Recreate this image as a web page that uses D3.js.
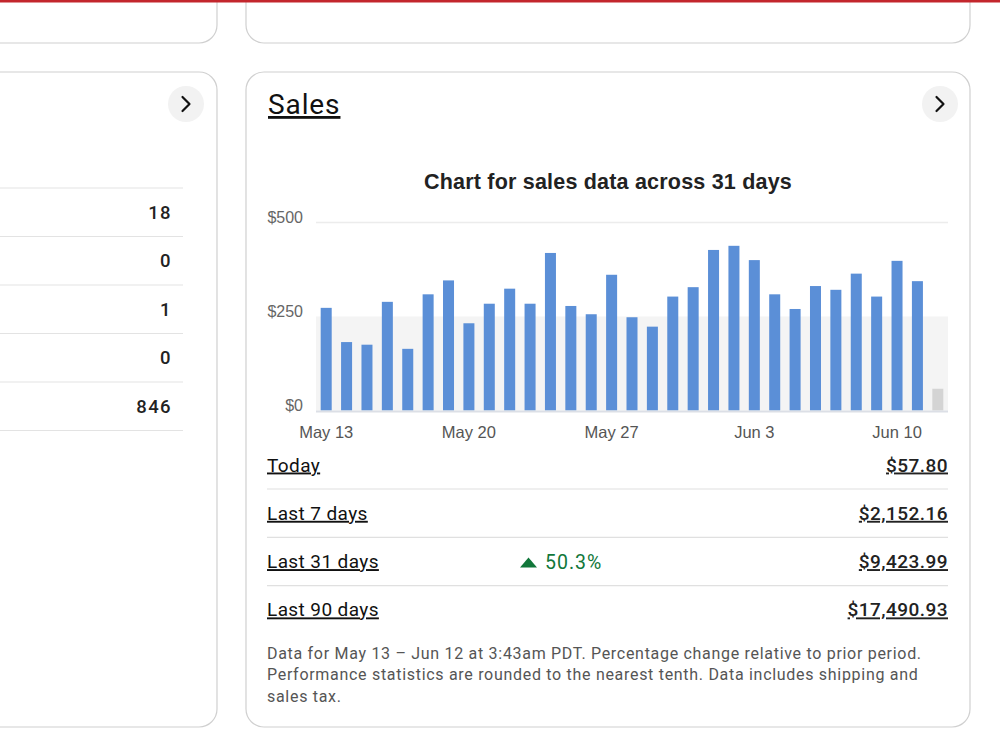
<!DOCTYPE html>
<html>
<head>
<meta charset="utf-8">
<script src="https://cdn.jsdelivr.net/npm/d3@7"></script>
<style>
  html, body { margin: 0; padding: 0; background: #fff; }
  svg { display: block; }
</style>
</head>
<body>
<svg id="page" width="1000" height="750"></svg>
<script>
// ---- data ----
const days = ["May 13","May 14","May 15","May 16","May 17","May 18","May 19","May 20","May 21","May 22",
  "May 23","May 24","May 25","May 26","May 27","May 28","May 29","May 30","May 31","Jun 1",
  "Jun 2","Jun 3","Jun 4","Jun 5","Jun 6","Jun 7","Jun 8","Jun 9","Jun 10","Jun 11","Jun 12"];
const sales = [273,182,175,289,164,309,346,232,284,324,284,419,278,256,361,248,
  223,303,328,427,438,400,309,270,331,321,364,303,398,344,57.8];
const todayLabel = "Jun 12";
const xTickLabels = ["May 13","May 20","May 27","Jun 3","Jun 10"];
const yTickValues = [0,250,500];
const bandRange = [0,250];
const chartTitle = "Chart for sales data across 31 days";

const leftValues = ["18","0","1","0","846"];
const statLabels = ["Today","Last 7 days","Last 31 days","Last 90 days"];
const statValues = ["$57.80","$2,152.16","$9,423.99","$17,490.93"];
const statChanges = ["","","50.3%",""];
const footnote = ["Data for May 13 – Jun 12 at 3:43am PDT. Percentage change relative to prior period.",
  "Performance statistics are rounded to the nearest tenth. Data includes shipping and",
  "sales tax."];

// ---- page ----
const svg = d3.select("#page");
const UI = "Roboto, 'Liberation Sans', sans-serif";
const CH = "'Liberation Sans', Arial, sans-serif";

// cards
function card(x, y, w, h) {
  svg.append("rect").attr("x",x).attr("y",y).attr("width",w).attr("height",h)
    .attr("rx",18).attr("fill","#fff").attr("stroke","#d0d0d0").attr("stroke-width",1.2);
}
card(-40, -40, 257, 83);
card(246, -40, 724, 83);
card(-40, 72, 257, 655);
card(246, 72, 724, 655);

// red top bar
svg.append("rect").attr("x",0).attr("y",0).attr("width",1000).attr("height",2.5).attr("fill","#c3262c");

// chevron buttons
function chevron(cx, cy) {
  svg.append("circle").attr("cx",cx).attr("cy",cy).attr("r",18).attr("fill","#f2f2f2");
  svg.append("path").attr("d",`M${cx-3.5},${cy-7} L${cx+3.5},${cy} L${cx-3.5},${cy+7}`)
    .attr("fill","none").attr("stroke","#111").attr("stroke-width",2.2).attr("stroke-linecap","round").attr("stroke-linejoin","round");
}
chevron(186, 104);
chevron(940, 104);

// left card rows
const leftRowY = d3.scaleLinear().domain([0,1]).range([188,236.5]);
leftValues.forEach((v,i) => {
  svg.append("line").attr("x1",0).attr("x2",183).attr("y1",leftRowY(i)).attr("y2",leftRowY(i))
    .attr("stroke","#e3e3e3").attr("stroke-width",1.2);
  svg.append("text").attr("x",172).attr("y",leftRowY(i)+30.5).attr("text-anchor","end")
    .attr("font-family",UI).attr("font-size",18.5).attr("font-weight",500).attr("letter-spacing",1.4)
    .attr("fill","#222").text(v);
});
svg.append("line").attr("x1",0).attr("x2",183).attr("y1",leftRowY(5)).attr("y2",leftRowY(5))
  .attr("stroke","#e3e3e3").attr("stroke-width",1.2);

// Sales heading
svg.append("text").attr("x",268).attr("y",114).attr("font-family",UI).attr("font-size",28)
  .attr("font-weight",400).attr("letter-spacing",0.9).attr("fill","#111").attr("text-decoration","underline").text("Sales");

// ---- chart ----
const x = d3.scaleBand().domain(days).range([316,948]).paddingInner(0.46).paddingOuter(0.23);
const y = d3.scaleLinear().domain([0,500]).range([410.5,222.5]);

svg.append("text").attr("x",608).attr("y",189).attr("text-anchor","middle")
  .attr("font-family",CH).attr("font-size",21.5).attr("font-weight","bold").attr("letter-spacing",0.2)
  .attr("fill","#222").text(chartTitle);

// shaded band
svg.append("rect").attr("x",316).attr("width",632).attr("y",y(bandRange[1]))
  .attr("height",y(bandRange[0])-y(bandRange[1])).attr("fill","#f4f4f4");

// gridline at top
svg.append("line").attr("x1",316).attr("x2",948).attr("y1",y(500)).attr("y2",y(500))
  .attr("stroke","#ececec").attr("stroke-width",1.5);

// bars
svg.append("g").selectAll("rect").data(sales).join("rect")
  .attr("x",(d,i)=>x(days[i])).attr("width",x.bandwidth())
  .attr("y",d=>y(d)).attr("height",d=>y(0)-y(d))
  .attr("fill",(d,i)=>days[i]===todayLabel ? "#d4d4d4" : "#5b8fd7");

// baseline
svg.append("line").attr("x1",316).attr("x2",948).attr("y1",y(0)+1).attr("y2",y(0)+1)
  .attr("stroke","#dcdfe6").attr("stroke-width",2);

// y axis
const yAxis = svg.append("g").attr("transform","translate(303,0)")
  .call(d3.axisLeft(y).tickValues(yTickValues).tickSize(0).tickPadding(0).tickFormat(d=>"$"+d));
yAxis.select(".domain").remove();
yAxis.selectAll("text").attr("font-family",CH).attr("font-size",16).attr("fill","#666").attr("dy","0em");

// x axis
const xAxis = svg.append("g").attr("transform","translate(0,422)")
  .call(d3.axisBottom(x).tickValues(xTickLabels).tickSize(0).tickPadding(4));
xAxis.select(".domain").remove();
xAxis.selectAll("text").attr("font-family",CH).attr("font-size",16.5).attr("fill","#555");

// ---- stats rows ----
const rowY = d3.scaleLinear().domain([0,1]).range([465,513.3]);
statLabels.forEach((lab,i) => {
  const cy = rowY(i);
  svg.append("text").attr("x",267).attr("y",cy+6.5).attr("font-family",UI).attr("font-size",19)
    .attr("letter-spacing",0.4).attr("fill","#111").attr("text-decoration","underline").text(lab);
  svg.append("text").attr("x",948).attr("y",cy+6.5).attr("text-anchor","end").attr("font-family",UI)
    .attr("font-size",19).attr("font-weight",500).attr("letter-spacing",0.45).attr("fill","#222")
    .attr("text-decoration","underline").text(statValues[i]);
  if (statChanges[i]) {
    svg.append("path").attr("d",`M520,${cy+6} L528.5,${cy-4} L537,${cy+6} Z`).attr("fill","#11773a");
    svg.append("text").attr("x",545).attr("y",cy+7).attr("font-family",UI).attr("font-size",19.5)
      .attr("letter-spacing",1.0).attr("fill","#11773a").text(statChanges[i]);
  }
  if (i < statLabels.length-1) {
    svg.append("line").attr("x1",267).attr("x2",948).attr("y1",cy+24).attr("y2",cy+24)
      .attr("stroke","#e0e0e0").attr("stroke-width",1.2);
  }
});

// footnote
footnote.forEach((t,i) => {
  svg.append("text").attr("x",267).attr("y",658.5+i*21.5).attr("font-family",UI).attr("font-size",16)
    .attr("letter-spacing",0.7).attr("fill","#555").text(t);
});
</script>
</body>
</html>
